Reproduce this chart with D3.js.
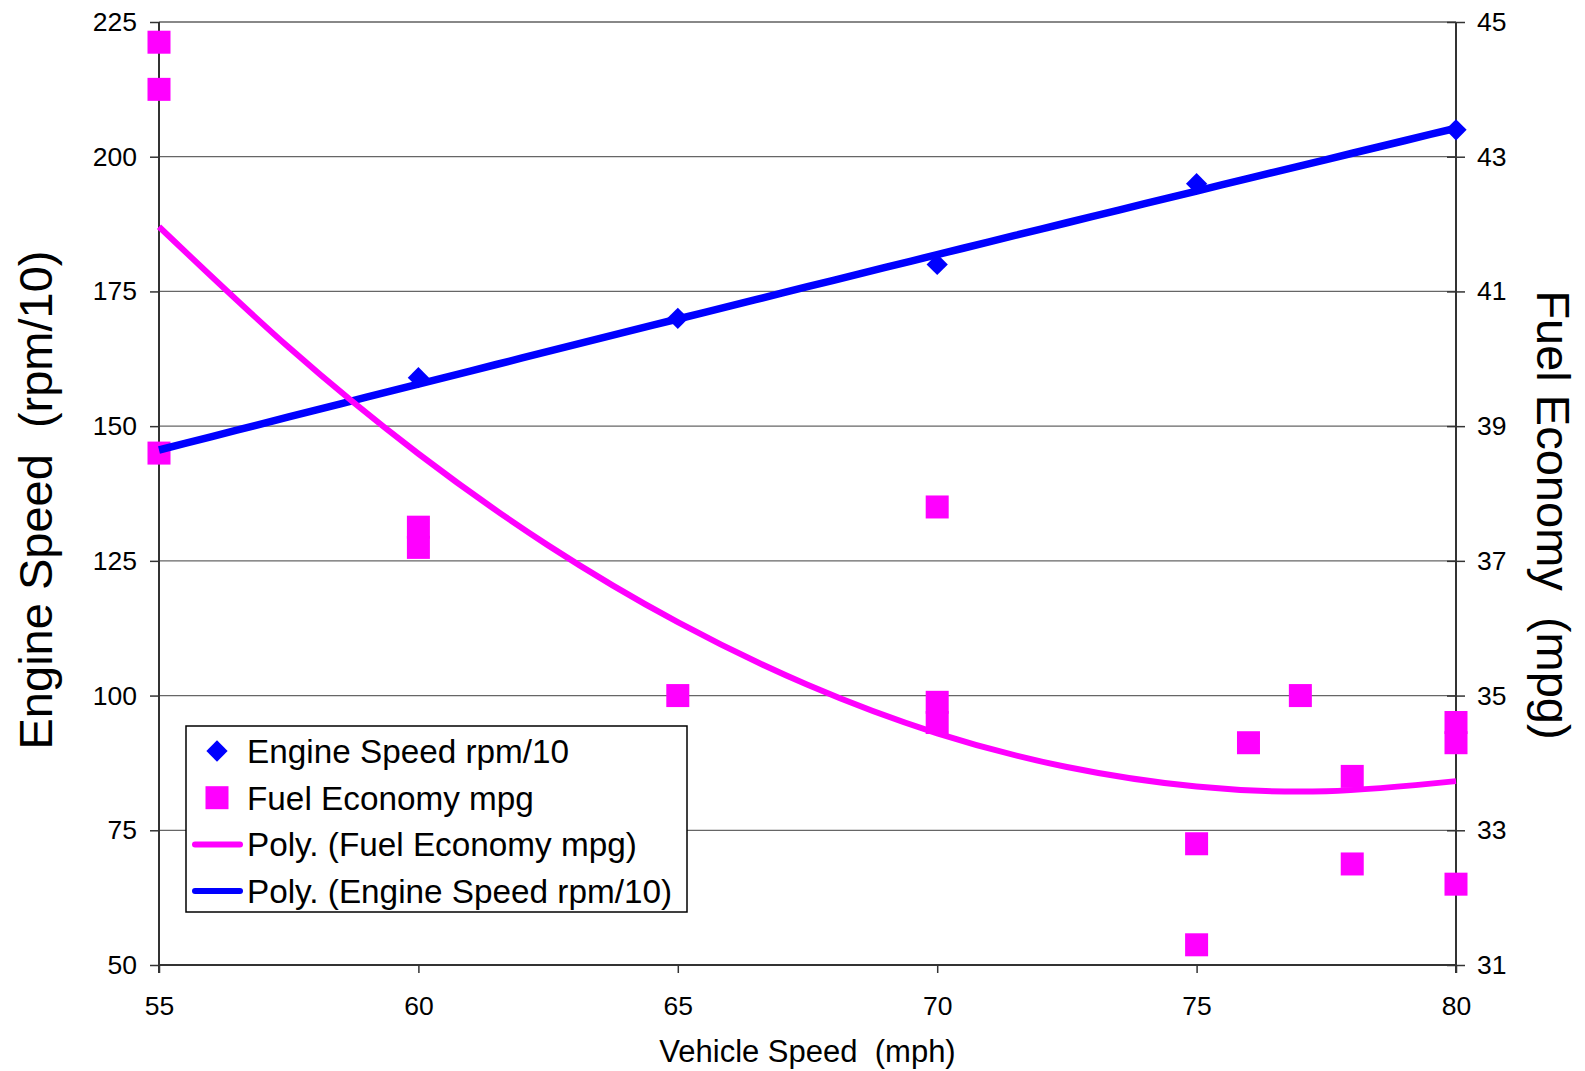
<!DOCTYPE html>
<html><head><meta charset="utf-8">
<script src="https://cdn.jsdelivr.net/npm/d3@7"></script>
<style>body{margin:0;background:#fff} text{font-family:"Liberation Sans",Arial,sans-serif;fill:#000;white-space:pre}</style>
</head><body><svg id="c" width="1585" height="1071"></svg>
<script>
// ---- data ----
const engineX = [55, 60, 65, 70, 75, 80];
const engineRpm10 = [145, 159, 170, 180, 195, 205];
const fuelX = [55, 55, 55, 60, 60, 65, 70, 70, 70, 75, 75, 76, 77, 78, 78, 80, 80, 80];
const fuelMpg = [44.7, 44.0, 38.6, 37.5, 37.2, 35.0, 37.8, 34.9, 34.6, 32.8, 31.3, 34.3, 35.0, 33.8, 32.5, 34.6, 34.3, 32.2];
const fuelTrendX = [55, 57.5, 60, 62.5, 65, 67.5, 70, 72.5, 75, 77.5, 80];
const fuelTrendMpg = [41.96, 40.17, 38.59, 37.23, 36.09, 35.16, 34.44, 33.94, 33.65, 33.58, 33.73];
const xTicks = [55, 60, 65, 70, 75, 80];
const leftTicks = [50, 75, 100, 125, 150, 175, 200, 225];
const rightTicks = [31, 33, 35, 37, 39, 41, 43, 45];
const legendLabels = ["Engine Speed rpm/10", "Fuel Economy mpg", "Poly. (Fuel Economy mpg)", "Poly. (Engine Speed rpm/10)"];

const L = 159, R = 1456, T = 22, B = 965;
const svg = d3.select("#c");
const x = d3.scaleLinear().domain([55, 80]).range([L, R]);
const yL = d3.scaleLinear().domain([50, 225]).range([B, T]);
const yR = d3.scaleLinear().domain([31, 45]).range([B, T]);
const BLUE = "#0000ff", PINK = "#ff00ff";

// gridlines
svg.append("g").selectAll("line").data(leftTicks.slice(1)).join("line")
  .attr("x1", L).attr("x2", R).attr("y1", d => yL(d)).attr("y2", d => yL(d))
  .attr("stroke", d => d === 225 ? "#888" : "#666").attr("stroke-width", d => d === 225 ? 2 : 1.3);

// left axis
const gl = svg.append("g").attr("transform", `translate(${L},0)`)
  .call(d3.axisLeft(yL).tickValues(leftTicks).tickSize(9).tickPadding(13));
// right axis
const gr = svg.append("g").attr("transform", `translate(${R},0)`)
  .call(d3.axisRight(yR).tickValues(rightTicks).tickSize(9).tickPadding(12));
gr.selectAll(".tick line").attr("x1", -9);
// bottom axis
const gb = svg.append("g").attr("transform", `translate(0,${B})`)
  .call(d3.axisBottom(x).tickValues(xTicks).tickSize(8).tickPadding(23));
[gl, gr, gb].forEach(g => {
  g.select(".domain").attr("stroke", "#333").attr("stroke-width", 2);
  g.selectAll(".tick line").attr("stroke", "#333").attr("stroke-width", 1.5);
  g.selectAll("text").attr("font-size", 26.5).attr("font-family", '"Liberation Sans",Arial,sans-serif').attr("fill", "#000");
});
gl.select(".domain").attr("d", `M0,${B + 8}V${T}`);
gr.select(".domain").attr("d", `M0,${B + 8}V${T}`);
gb.select(".domain").attr("d", `M${L},0H${R}`);

// markers: diamonds
const dsym = d3.symbol().type(d3.symbolDiamond2).size(2 * 12 * 12);
svg.append("g").selectAll("path").data(engineX.map((v, i) => [v, engineRpm10[i]])).join("path")
  .attr("d", dsym).attr("transform", d => `translate(${x(d[0])},${yL(d[1])})`).attr("fill", BLUE);
// squares
const S = 23;
svg.append("g").selectAll("rect").data(fuelX.map((v, i) => [v, fuelMpg[i]])).join("rect")
  .attr("x", d => x(d[0]) - S / 2).attr("y", d => yR(d[1]) - S / 2).attr("width", S).attr("height", S)
  .attr("fill", PINK);

// engine trend: polynomial (order 2) least-squares fit of the engine data
function polyFit2(xs, ys) {
  const m = d3.mean(xs);
  let s = [0, 0, 0, 0, 0], t = [0, 0, 0];
  xs.forEach((xv, i) => {
    const u = xv - m;
    for (let k = 0; k < 5; k++) s[k] += Math.pow(u, k);
    for (let k = 0; k < 3; k++) t[k] += ys[i] * Math.pow(u, k);
  });
  const A = [[s[0], s[1], s[2], t[0]], [s[1], s[2], s[3], t[1]], [s[2], s[3], s[4], t[2]]];
  for (let i = 0; i < 3; i++) {
    for (let j = i + 1; j < 3; j++) {
      const f = A[j][i] / A[i][i];
      for (let k = i; k < 4; k++) A[j][k] -= f * A[i][k];
    }
  }
  const c = [0, 0, 0];
  for (let i = 2; i >= 0; i--) {
    let v = A[i][3];
    for (let k = i + 1; k < 3; k++) v -= A[i][k] * c[k];
    c[i] = v / A[i][i];
  }
  return xv => c[0] + c[1] * (xv - m) + c[2] * (xv - m) * (xv - m);
}
const engFit = polyFit2(engineX, engineRpm10);
const engTrend = d3.range(55, 80.001, 0.5).map(v => [v, engFit(v)]);
svg.append("path").datum(engTrend)
  .attr("d", d3.line().x(d => x(d[0])).y(d => yL(d[1])))
  .attr("fill", "none").attr("stroke", BLUE).attr("stroke-width", 7.5);

// fuel trend
svg.append("path").datum(fuelTrendX.map((v, i) => [v, fuelTrendMpg[i]]))
  .attr("d", d3.line().x(d => x(d[0])).y(d => yR(d[1])).curve(d3.curveNatural))
  .attr("fill", "none").attr("stroke", PINK).attr("stroke-width", 6);

// titles
svg.append("text").attr("transform", "translate(52,500) rotate(-90)").attr("text-anchor", "middle")
  .attr("font-size", 47).text("Engine Speed  (rpm/10)");
svg.append("text").attr("transform", "translate(1537,515) rotate(90)").attr("text-anchor", "middle")
  .attr("font-size", 47).text("Fuel Economy  (mpg)");
svg.append("text").attr("x", (L + R) / 2).attr("y", 1062).attr("text-anchor", "middle")
  .attr("font-size", 31).text("Vehicle Speed  (mph)");

// legend
const lg = svg.append("g").attr("transform", "translate(186,726)");
lg.append("rect").attr("width", 501).attr("height", 186).attr("fill", "#fff").attr("stroke", "#000").attr("stroke-width", 1.5);
const rowY = i => 25 + i * 46.7;
lg.append("path").attr("d", dsym).attr("transform", `translate(31,${rowY(0)})`).attr("fill", BLUE);
lg.append("rect").attr("x", 31 - 11.5).attr("y", rowY(1) - 11.5).attr("width", 23).attr("height", 23).attr("fill", PINK);
lg.append("line").attr("x1", 9).attr("x2", 54).attr("y1", rowY(2)).attr("y2", rowY(2)).attr("stroke", PINK).attr("stroke-width", 6).attr("stroke-linecap", "round");
lg.append("line").attr("x1", 9).attr("x2", 54).attr("y1", rowY(3)).attr("y2", rowY(3)).attr("stroke", BLUE).attr("stroke-width", 6).attr("stroke-linecap", "round");
lg.selectAll("text.l").data(legendLabels).join("text").attr("class", "l")
  .attr("x", 61).attr("y", (d, i) => rowY(i)).attr("dy", "0.36em").attr("font-size", 33.3).text(d => d);
</script></body></html>
